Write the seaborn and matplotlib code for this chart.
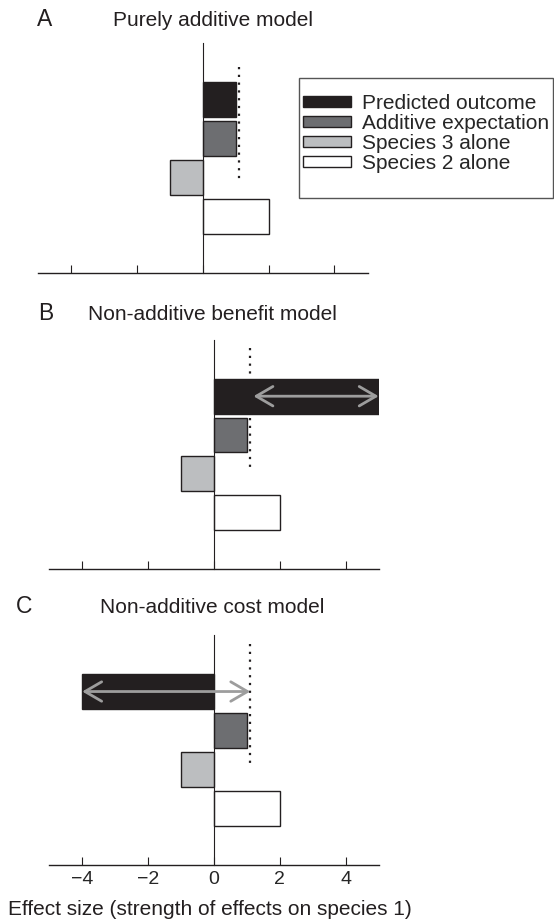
import numpy as np
import pandas as pd
import matplotlib
matplotlib.use('Agg')
import matplotlib.pyplot as plt
from matplotlib.patches import Patch, Rectangle
import seaborn as sns

# data (panels A, B, C)
components = ['Predicted outcome', 'Additive expectation', 'Species 3 alone', 'Species 2 alone']
predicted = [1, 5, -4]
additive = [1, 1, 1]
species3 = [-1, -1, -1]
species2 = [2, 2, 2]
letters = ['A', 'B', 'C']
titles = ['Purely additive model', 'Non-additive benefit model', 'Non-additive cost model']
expect_line = [1.1, 1.1, 1.1]
expect_span = [(-0.83, 2.09), (-1.25, 1.84), (-1.23, 1.86)]
arrows = [None, (1.2, 5.0), (-4.0, 1.1)]
xticks = [-4, -2, 0, 2, 4]
xlabel = 'Effect size (strength of effects on species 1)'

colors = ['#231f20', '#6d6e71', '#bcbec0', '#ffffff']
edge = '#231f20'

sns.set_style('ticks')
plt.rcParams['font.family'] = ['Liberation Sans', 'DejaVu Sans']

W, H = 554, 921
fig = plt.figure(figsize=(W / 100, H / 100), dpi=100)

# axes boxes in pixels: left, top, right, bottom
boxes = [(38.3, 43.3, 368, 273.3), (49.3, 340, 379.3, 568.7), (49.3, 635, 379.3, 865)]
letter_pos = [(37, 26), (38, 320), (16, 613)]
title_pos = [(113, 26), (88, 320), (100, 613)]

for i in range(3):
    l, t, r, b = boxes[i]
    ax = fig.add_axes([l / W, 1 - b / H, (r - l) / W, (b - t) / H])
    df = pd.DataFrame({'component': components,
                       'effect': [predicted[i], additive[i], species3[i], species2[i]]})
    sns.barplot(data=df, x='effect', y='component', hue='component', order=components,
                hue_order=components, palette=colors, saturation=1, width=0.9,
                edgecolor=edge, linewidth=1.0, legend=False, ax=ax)

    # dotted additive expectation line
    ax.plot([expect_line[i], expect_line[i]], expect_span[i], ls=(0, (1, 2.5)), lw=1.6,
            color=edge, zorder=1)

    if arrows[i] is not None:
        x0, x1 = arrows[i]
        ax.annotate('', xy=(x1, 0), xytext=(x0, 0),
                    arrowprops=dict(arrowstyle='<->,head_length=1.2,head_width=0.7',
                                    color='#9d9d9d', lw=2, shrinkA=0, shrinkB=0,
                                    mutation_scale=10))

    ax.set_xlim(-5, 5.02)
    ax.set_ylim(4.45, -1.45)
    ax.set_xticks(xticks)
    ax.set_xlabel('')
    ax.set_ylabel('')
    ax.spines['top'].set_visible(False)
    ax.spines['right'].set_visible(False)
    ax.spines['left'].set_position(('data', 0))
    ax.spines['left'].set_linewidth(0.8)
    ax.spines['left'].set_color(edge)
    ax.spines['bottom'].set_linewidth(1.0)
    ax.spines['bottom'].set_color(edge)
    ax.tick_params(axis='y', left=False, labelleft=False)
    ax.tick_params(axis='x', direction='in', length=5.5, width=0.8, color=edge,
                   labelsize=14, pad=4, labelbottom=(i == 2))
    ax.patch.set_alpha(0)

    fig.text(letter_pos[i][0] / W, 1 - letter_pos[i][1] / H, letters[i], fontsize=16.5,
             va='baseline', ha='left', color=edge)
    fig.text(title_pos[i][0] / W, 1 - title_pos[i][1] / H, titles[i], fontsize=15,
             va='baseline', ha='left', color=edge)

fig.text(8.3 / W, 1 - 915 / H, xlabel, fontsize=15, va='baseline', ha='left', color=edge)

# legend with a hand-placed frame
frame = Rectangle((299 / W, 1 - 198.3 / H), (553 - 299) / W, (198.3 - 78.3) / H,
                  transform=fig.transFigure, fill=False, edgecolor='#555555', lw=1)
fig.patches.append(frame)
handles = [Patch(facecolor=c, edgecolor=edge, lw=1) for c in colors]
leg = fig.legend(handles, components, loc='upper left', bbox_to_anchor=(303 / W, 1 - 94 / H),
                 bbox_transform=fig.transFigure, fontsize=15, frameon=False,
                 handlelength=2.3, handleheight=0.4, handletextpad=0.53,
                 labelspacing=0.05, borderpad=0, borderaxespad=0)

fig.savefig('out.png', dpi=100)
